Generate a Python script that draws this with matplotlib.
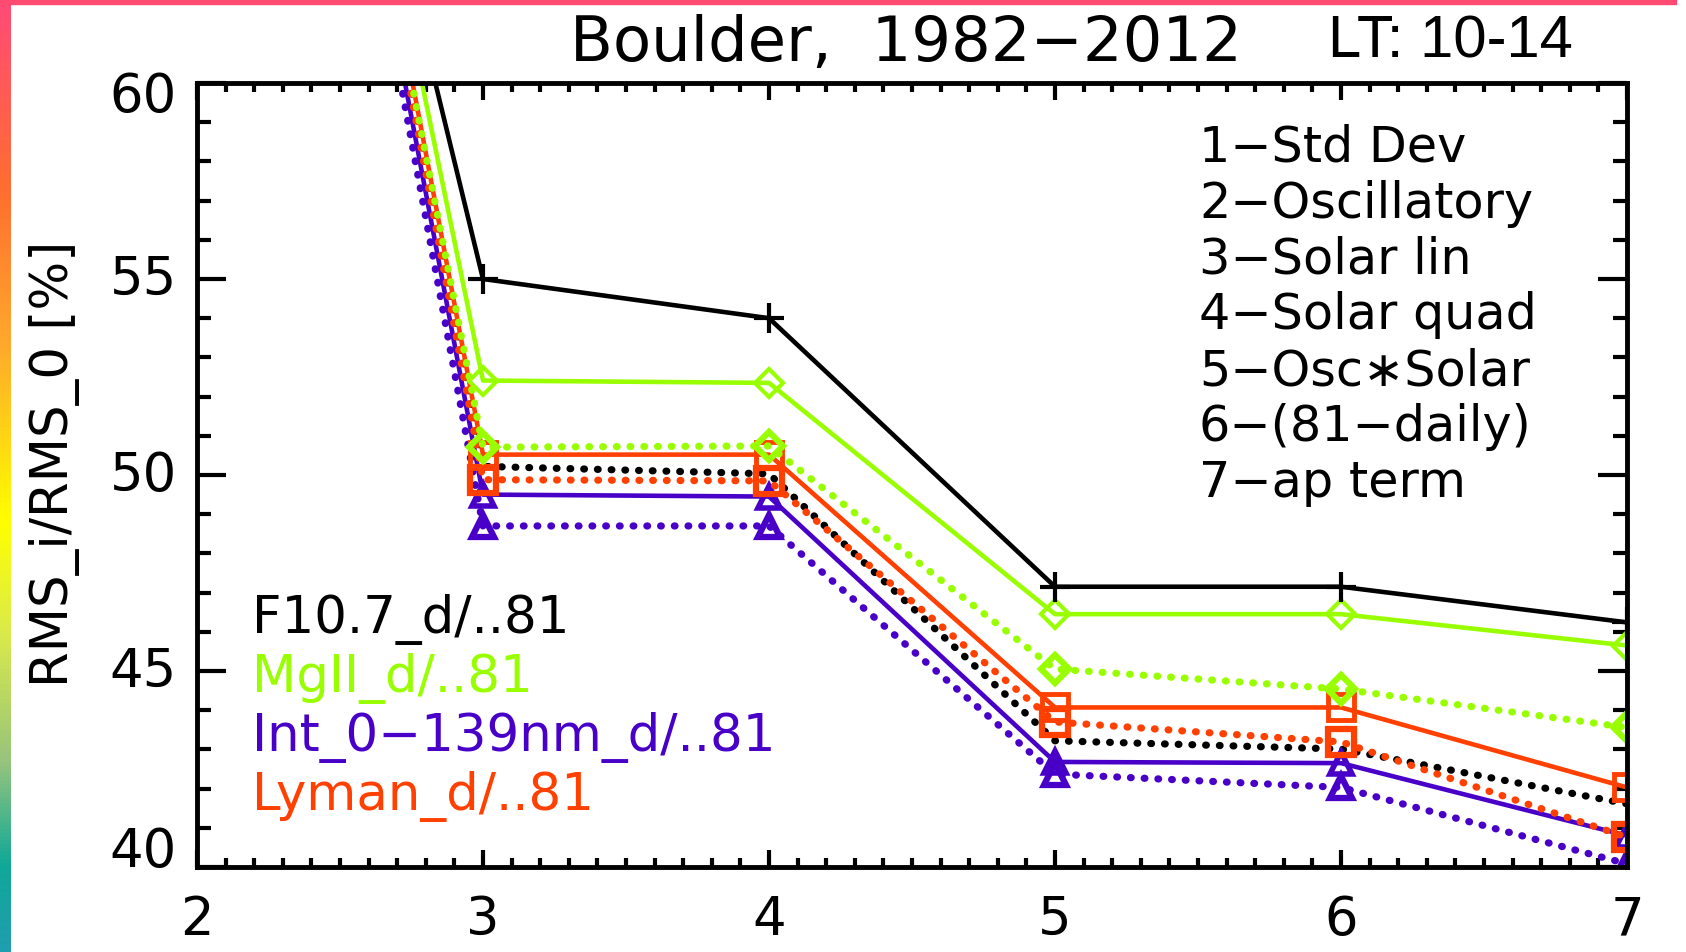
import numpy as np
import matplotlib
matplotlib.use('Agg')
import matplotlib.pyplot as plt
from matplotlib.colors import LinearSegmentedColormap
from matplotlib.ticker import MultipleLocator
from matplotlib.transforms import blended_transform_factory, ScaledTranslation

# Paso do modelo (eixo x) e RMS_i/RMS_0 en %
steps = [2, 3, 4, 5, 6, 7]

f107_solid = [85.0, 55.0, 54.0, 47.15, 47.15, 46.24]
f107_dot = [89.0, 50.22, 50.03, 43.22, 43.01, 41.61]
mg2_solid = [88.0, 52.41, 52.35, 46.45, 46.45, 45.65]
mg2_dot = [88.0, 50.71, 50.74, 45.05, 44.54, 43.56]
int_solid = [88.0, 49.50, 49.45, 42.68, 42.65, 40.80]
int_dot = [88.0, 48.70, 48.70, 42.37, 42.03, 40.08]
lym_solid = [89.0, 50.52, 50.52, 44.07, 44.07, 42.03]
lym_dot = [89.0, 49.88, 49.85, 43.70, 43.19, 40.76]

ytick_vals = [40, 45, 50, 55, 60]
ytick_labels = ['40', '45', '50', '55', '60']

proxy_names = ['F10.7_d/..81', 'MgII_d/..81', 'Int_0\u2212139nm_d/..81', 'Lyman_d/..81']
model_terms = ['1\u2212Std Dev', '2\u2212Oscillatory', '3\u2212Solar lin', '4\u2212Solar quad',
               '5\u2212Osc\u2217Solar', '6\u2212(81\u2212daily)', '7\u2212ap term']

BLACK = 'black'
GREEN = '#99ff00'
PURPLE = '#4800c8'
RED = '#ff4000'

W, H = 1686, 953
fig = plt.figure(figsize=(W / 100, H / 100), dpi=100)


def fx(x):
    return x / W


def fy(y):
    return 1 - y / H


# marco de cor (gradiente esquerdo e barra superior)
grad = LinearSegmentedColormap.from_list('frame', [
    (0.0, '#ff4a78'), (0.2, '#ff6e30'), (0.36, '#ffa82c'), (0.55, '#ffff00'),
    (0.66, '#dcec48'), (0.8, '#98c47c'), (0.91, '#10a898'), (1.0, '#209eb0')])
gax = fig.add_axes([0, 0, fx(11), 1])
gax.imshow(np.linspace(0, 1, 256)[:, None], cmap=grad, aspect='auto')
gax.axis('off')
fig.patches.append(plt.Rectangle((0, fy(5)), fx(1676), 1 - fy(5), transform=fig.transFigure,
                                 color='#ff4a72', zorder=0))

ax = fig.add_axes([fx(197), fy(868), fx(1627) - fx(197), fy(84) - fy(868)])

dot = (0, (0.1, 1.8))
lw = 3.3
dlw = 5.2

ax.plot(steps, f107_dot, color=BLACK, lw=dlw, linestyle=dot, dash_capstyle='round')
ax.plot(steps, int_solid, color=PURPLE, lw=lw, marker='^', ms=16, mfc='none', mew=4)
ax.plot(steps, int_dot, color=PURPLE, lw=dlw, linestyle=dot, dash_capstyle='round',
        marker='^', ms=16, mfc='none', mew=4.5)
ax.plot(steps, lym_solid, color=RED, lw=lw, marker='s', ms=19, mfc='none', mew=3.5)
ax.plot(steps, lym_dot, color=RED, lw=dlw, linestyle=dot, dash_capstyle='round',
        marker='s', ms=19, mfc='none', mew=4.5)
ax.plot(steps, mg2_solid, color=GREEN, lw=lw, marker='D', ms=14, mfc='none', mew=3)
ax.plot(steps, mg2_dot, color=GREEN, lw=dlw, linestyle=dot, dash_capstyle='round',
        marker='D', ms=14, mfc='none', mew=4.5)
ax.plot(steps, f107_solid, color=BLACK, lw=lw, marker='+', ms=22, mew=3)

ax.set_xlim(2, 7)
ax.set_ylim(40, 60)
ax.xaxis.set_major_locator(MultipleLocator(1))
ax.xaxis.set_minor_locator(MultipleLocator(0.1))
ax.yaxis.set_major_locator(MultipleLocator(5))
ax.yaxis.set_minor_locator(MultipleLocator(1))

for s in ax.spines.values():
    s.set_linewidth(3.5)
ax.tick_params(which='both', direction='in', top=True, right=True, width=3,
               labelsize=38, labelfontfamily='DejaVu Sans')
ax.tick_params(axis='x', which='major', length=12, pad=19)
ax.tick_params(axis='x', which='minor', length=6.5)
ax.tick_params(axis='y', which='major', length=21, labelleft=False)
ax.tick_params(axis='y', which='minor', length=10)

# etiquetas do eixo y (as dos extremos desprazadas cara dentro, como no orixinal)
ytr = blended_transform_factory(ax.transAxes, ax.transData)
shifts = {40: 16, 60: -13}
for v, lab in zip(ytick_vals, ytick_labels):
    off = ScaledTranslation(0, shifts.get(v, 0) / 100, fig.dpi_scale_trans)
    ax.text(-20 / 1430, v, lab, transform=ytr + off, fontsize=38, ha='right',
            va='center', family='DejaVu Sans', clip_on=False)

# titulos
fig.text(fx(906), fy(44), 'Boulder,  1982\u22122012', fontsize=45, ha='center', va='center',
         family='DejaVu Sans')
fig.text(fx(1328), fy(57), 'LT: 10-14', fontsize=43, ha='left', va='baseline',
         family='Liberation Sans')
fig.text(fx(55), fy(464), 'RMS_i/RMS_0 [%]', fontsize=37, rotation=90, ha='center',
         va='center', family='DejaVu Sans')

# lenda dos termos do modelo
for i, t in enumerate(model_terms):
    fig.text(fx(1199), fy(148 + 55.8 * i), t, fontsize=35.5, ha='left', va='center',
             family='DejaVu Sans')

# lenda dos indices solares
for i, (t, c) in enumerate(zip(proxy_names, [BLACK, GREEN, PURPLE, RED])):
    fig.text(fx(252), fy(620 + 58.7 * i), t, fontsize=37, ha='left', va='center',
             color=c, family='DejaVu Sans')

fig.savefig('out.png', dpi=100, facecolor='white')
